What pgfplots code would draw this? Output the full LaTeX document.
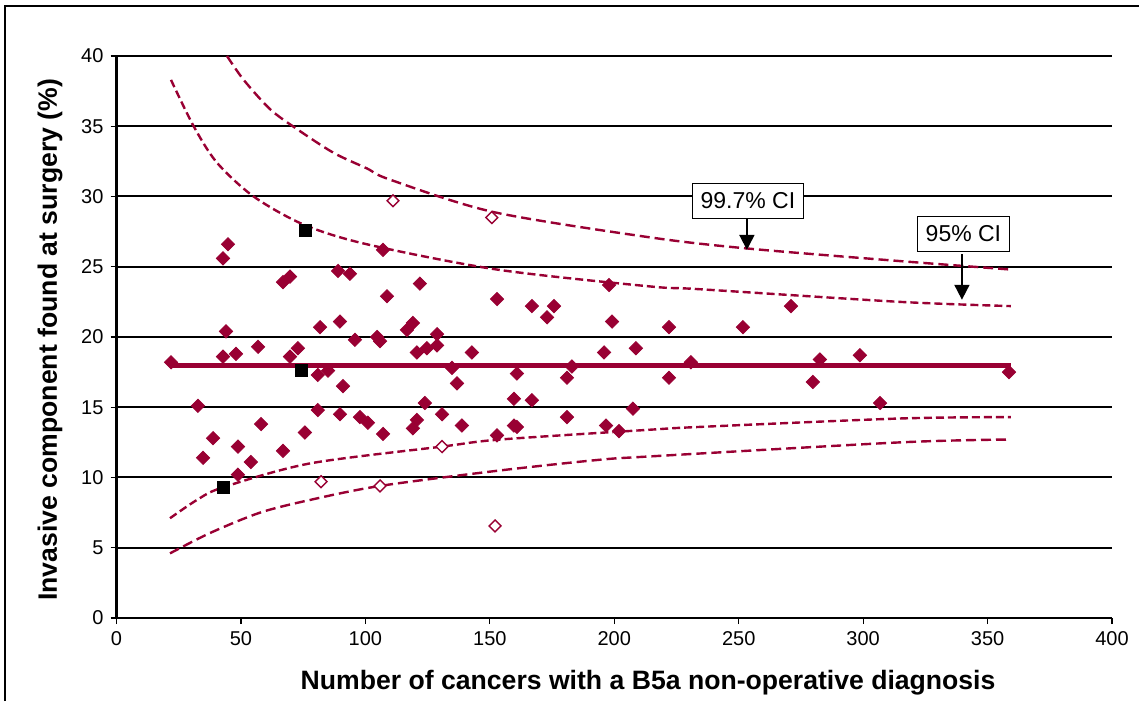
\documentclass[border=0pt]{standalone}
\usepackage{fontspec}
\setmainfont{Liberation Sans}
\usepackage{pgfplots}
\pgfplotsset{compat=1.18}
\usetikzlibrary{arrows.meta}
\definecolor{dred}{RGB}{153,0,51}
\begin{document}
\begin{tikzpicture}
\useasboundingbox (0,0) rectangle (569.5pt,350.5pt);
\draw[line width=1pt] (2.5pt,0) -- (2.5pt,347.5pt) -- (569.5pt,347.5pt);
\begin{axis}[
  at={(58.25pt,41.5pt)}, anchor=south west,
  scale only axis, width=497.75pt, height=281pt,
  xmin=0, xmax=400, ymin=0, ymax=40,
  xtick={0,50,...,400}, ytick={0,5,...,40},
  axis x line=bottom, axis y line=left, axis line style={-},
  x axis line style={line width=1pt},
  y axis line style={line width=1.5pt},
  tick align=outside, major tick length=3pt,
  tick style={black, line width=0.6pt},
  ymajorgrids, major grid style={black, line width=1pt},
  /pgf/number format/assume math mode=true,
  tick label style={font=\fontsize{10}{11}\selectfont},
  xlabel={Number of cancers with a B5a non-operative diagnosis},
  ylabel={Invasive component found at surgery (\%)},
  xlabel style={font=\fontsize{13.3}{15}\selectfont\bfseries, at={([yshift=-32.5pt]axis description cs:0.534,0)}, anchor=center},
  ylabel style={font=\fontsize{13.3}{15}\selectfont\bfseries, at={([xshift=-33.25pt]axis description cs:0,0.495)}, anchor=center, rotate=0},
  clip=false,
]
% confidence limits
\addplot[dred, line width=1.2pt, dash pattern=on 5pt off 2.5pt, smooth] coordinates {
(44.4,40.0) (51.1,38.3) (61.8,36.2) (72.5,34.8) (87.3,33.1) (100.6,32.0) (109.9,31.2) (151.3,28.9) (214,27.1) (253.4,26.3) (315,25.4) (359.4,24.8)};
\addplot[dred, line width=1.2pt, dash pattern=on 4pt off 2pt, smooth] coordinates {
(21.9,38.3) (31.0,35.0) (40.4,32.4) (55.1,30.0) (75.2,28.0) (100.6,26.6) (152.9,24.8) (214.3,23.6) (234.4,23.4) (314.8,22.5) (359.4,22.2)};
\addplot[dred, line width=1.2pt, dash pattern=on 4pt off 2pt, smooth] coordinates {
(21.5,7.1) (32.3,8.4) (42.8,9.3) (77.7,11.0) (130.8,12.2) (154.0,12.7) (214.3,13.4) (234.4,13.6) (314.8,14.2) (359.4,14.3)};
\addplot[dred, line width=1.2pt, dash pattern=on 5pt off 2.5pt, smooth] coordinates {
(21.5,4.6) (37.6,6.05) (57.7,7.5) (77.7,8.4) (105.9,9.4) (154.0,10.5) (193.4,11.25) (214.3,11.5) (314.8,12.5) (357.8,12.7)};
% mean
\addplot[dred, line width=2.5pt] coordinates {(21.5,18.0) (359.4,18.0)};
% units
\addplot[only marks, mark=square*, mark size=2.35pt, mark options={rotate=45, fill=dred, draw=dred}] coordinates {
(21.9,18.2) (32.7,15.1) (38.8,12.8) (34.8,11.4) (48.8,12.2) (58.1,13.8) (54.0,11.1) (48.8,10.2) (66.9,11.9) (75.7,13.2)
(44.8,26.6) (42.8,25.6) (66.9,23.9) (69.7,24.3) (44.0,20.4) (42.8,18.6) (48.0,18.8) (56.9,19.3) (69.7,18.6) (72.9,19.2)
(107.1,26.2) (89.0,24.7) (93.8,24.5) (121.9,23.8) (108.7,22.9) (152.9,22.7) (81.8,20.7) (89.8,21.1) (119.1,21.0) (116.7,20.5)
(95.8,19.8) (104.7,20.0) (105.9,19.7) (128.8,20.2) (120.7,18.9) (124.7,19.2) (128.8,19.4) (142.8,18.9) (134.8,17.8) (80.9,17.3)
(85.0,17.6) (91.0,16.5) (136.8,16.7) (80.9,14.8) (89.8,14.5) (97.8,14.3) (101.0,13.9) (123.9,15.3) (130.8,14.5) (120.7,14.1)
(119.1,13.5) (138.8,13.7) (107.1,13.1) (152.9,13.0) (197.9,23.7) (166.9,22.2) (175.8,22.2) (173.0,21.4) (199.1,21.1) (222.0,20.7)
(195.9,18.9) (208.7,19.2) (183.0,17.9) (230.8,18.2) (160.9,17.4) (181.0,17.1) (222.0,17.1) (159.7,15.6) (166.9,15.5) (181.0,14.3)
(207.5,14.9) (159.7,13.7) (160.9,13.6) (196.7,13.7) (201.9,13.3) (251.7,20.7) (271.0,22.2) (282.6,18.4) (298.7,18.7) (279.8,16.8)
(306.8,15.3) (358.6,17.5)};
\addplot[only marks, mark=square*, mark size=2.1pt, mark options={rotate=45, fill=white, draw=dred, line width=0.7pt}] coordinates {
(111.1,29.7) (150.8,28.5) (130.8,12.2) (82.2,9.7) (105.9,9.4) (152.1,6.55)};
\addplot[only marks, mark=square*, mark size=3pt, mark options={fill=black, draw=black}] coordinates {
(75.7,27.6) (74.2,17.6) (42.8,9.3)};
% annotations
\draw[line width=0.9pt, -{Triangle[width=7.5pt,length=7.5pt]}] (axis cs:253.3,28.5) -- (axis cs:253.3,26.2);
\node[draw, line width=0.6pt, fill=white, inner xsep=4pt, minimum height=17.5pt, font=\fontsize{11.5}{12}\selectfont] at (axis cs:253.7,29.7) {99.7\% CI};
\draw[line width=0.9pt, -{Triangle[width=7.5pt,length=7.5pt]}] (axis cs:339.7,25.9) -- (axis cs:339.7,22.65);
\node[draw, line width=0.6pt, fill=white, inner xsep=4pt, minimum height=17.5pt, font=\fontsize{11.5}{12}\selectfont] at (axis cs:340.3,27.35) {95\% CI};
\end{axis}
\end{tikzpicture}
\end{document}
